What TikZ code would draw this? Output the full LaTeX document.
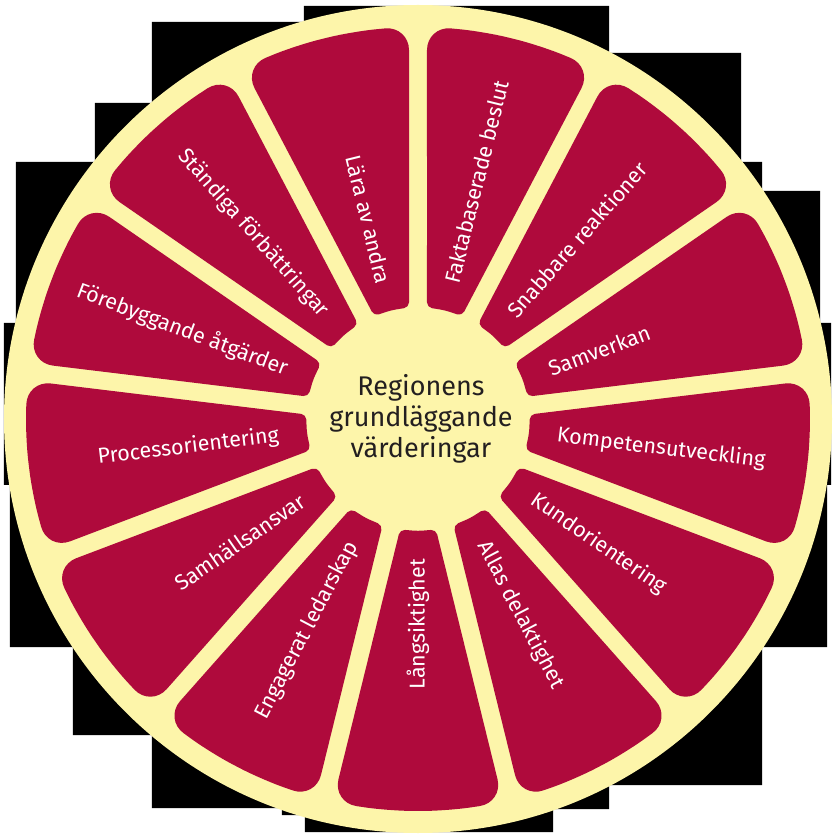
\documentclass[tikz,border=0pt]{standalone}
\usepackage{fontspec}
\setmainfont{Fira Sans}
\definecolor{wheelred}{RGB}{175,10,60}
\definecolor{wheelcream}{RGB}{253,245,170}
\definecolor{wheelink}{RGB}{35,31,32}
\tikzset{
  slicetext/.style={text=white,inner sep=0pt,font=\fontsize{21.5}{25}\selectfont},
  coretext/.style={text=wheelink,align=center,inner sep=0pt,font=\fontsize{27}{31}\selectfont}
}
\begin{document}
\begin{tikzpicture}[x=1pt,y=1pt]
    \useasboundingbox (-418,-418) rectangle (418,419);
    % black steps behind the rim
    \fill[black] (-114,413) -- (191,413) -- (191,366) -- (323,366) -- (323,257) -- (344,257)
      -- (344,228) -- (402,228) -- (402,96) -- (413,96) -- (413,-66) -- (409,-66)
      -- (409,-228) -- (344,-228) -- (344,-366) -- (191,-366) -- (191,-390) -- (135,-390)
      -- (135,-413) -- (-113,-413) -- (-113,-396) -- (-136,-396) -- (-136,-389) -- (-266,-389)
      -- (-266,-316) -- (-345,-316) -- (-345,-228) -- (-408,-228) -- (-408,-66) -- (-414,-66)
      -- (-414,96) -- (-402,96) -- (-402,257) -- (-323,257) -- (-323,316) -- (-266,316)
      -- (-266,397) -- (-114,397) -- cycle;
    % rim
    \fill[wheelcream] (0,0) circle (414);
    % slices
    \foreach \k/\txt in {0/Lära av andra, 1/Ständiga förbättringar, 2/Förebyggande åtgärder,
        3/Processorientering, 4/Samhällsansvar, 5/Engagerat ledarskap, 6/Långsiktighet,
        7/Allas delaktighet, 8/Kundorientering, 9/Kompetensutveckling, 10/Samverkan,
        11/Snabbare reaktioner, 12/Faktabaserade beslut}{
      \pgfmathsetmacro\ga{90+\k*360/13}
      \pgfmathsetmacro\gb{\ga+360/13}
      \pgfmathsetmacro\gm{\ga+180/13}
      \pgfmathsetmacro\oa{\ga+asin(9/393)}
      \pgfmathsetmacro\ob{\gb-asin(9/393)}
      \pgfmathsetmacro\ia{\ga+asin(9/112)}
      \pgfmathsetmacro\ib{\gb-asin(9/112)}
      \fill[wheelred] ([shift={({\ga+90}:9)}]\ga:250) [rounded corners=24pt]
        -- (\oa:393) -- ({\oa+(\ob-\oa)/3}:393) -- ({\oa+2*(\ob-\oa)/3}:393) -- (\ob:393)
        -- ([shift={({\gb-90}:9)}]\gb:250) [rounded corners=5pt]
        -- (\ib:112) -- (\gm:112) -- (\ia:112) -- cycle;
      \pgfmathtruncatemacro\lside{and(\gm>90,\gm<271)}
      \ifnum\lside=1
        \node[slicetext,anchor=east,rotate=\gm-180] (lbl\k) at (\gm:140) {\txt};
      \else
        \node[slicetext,anchor=west,rotate=\gm] (lbl\k) at (\gm:140) {\txt};
      \fi
    }
    % centre
    \node[coretext] (core) at (3,0) {Regionens\\grundläggande\\värderingar};
\end{tikzpicture}
\end{document}
